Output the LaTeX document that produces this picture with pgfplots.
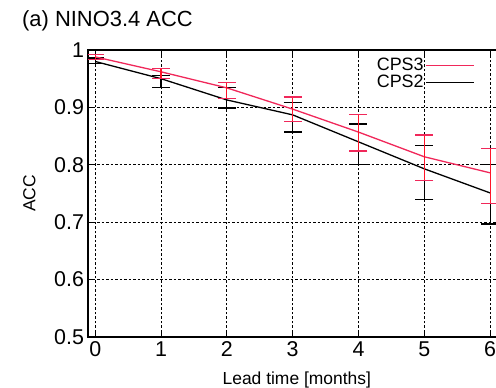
\documentclass[border=0pt]{standalone}
\usepackage{pgfplots}
\pgfplotsset{compat=1.18}
\usepackage{fontspec}
\setmainfont{Liberation Sans}
\definecolor{cpsred}{RGB}{240,40,90}
\definecolor{barred}{RGB}{255,20,40}
\begin{document}
\begin{tikzpicture}
\begin{axis}[
  at={(0,0)}, anchor=south west,
  scale only axis,
  width=435bp, height=287bp,
  xmin=-0.11, xmax=6.5,
  ymin=0.5, ymax=1.0,
  xtick={0,1,2,3,4,5,6},
  ytick={0.5,0.6,0.7,0.8,0.9,1.0},
  yticklabels={0.5,0.6,0.7,0.8,0.9,1},
  /pgf/number format/assume math mode=true,
  tick label style={font=\fontsize{21.5}{21.5}\selectfont},
  xticklabel style={yshift=-1.5bp},
  yticklabel style={xshift=-0.5bp},
  major tick length=5bp,
  tick style={black, line width=0.8bp},
  axis line style={black, line width=1.4bp},
  grid=major,
  major grid style={black, line width=1.1bp, dash pattern=on 2.5bp off 2bp},
  xlabel={Lead time [months]},
  ylabel={ACC},
  label style={font=\fontsize{17.5}{17.5}\selectfont},
  xlabel style={at={(axis description cs:0.48,-0.15)}, anchor=center},
  ylabel style={at={(axis description cs:-0.135,0.5)}, anchor=center},
  legend plot pos=right,
  legend cell align=right,
  reverse legend,
  legend style={draw=none, fill=none, at={(axis description cs:0.890,0.972)}, anchor=north east,
    font=\fontsize{18}{18}\selectfont, inner sep=0pt, row sep=2bp, column sep=2bp,
    nodes={inner sep=0pt, text height=12bp, text depth=3bp}},
  legend image code/.code={\draw[#1] (0bp,0bp) -- (48bp,0bp);},
]
\addplot[black, line width=1.3bp,
  error bars/.cd, y dir=both, y explicit,
  error bar style={black, line width=1.2bp},
  error mark options={black, line width=1.2bp, mark size=9bp, rotate=90}]
  coordinates {
  (0,0.980) += (0,0.006) -= (0,0.004)
  (1,0.950) += (0,0.006) -= (0,0.016)
  (2,0.913) += (0,0.022) -= (0,0.014)
  (3,0.887) += (0,0.022) -= (0,0.030)
  (4,0.840) += (0,0.031) -= (0,0.039)
  (5,0.793) += (0,0.040) -= (0,0.053)
  (6,0.751) += (0,0.050) -= (0,0.054)
  };
\addlegendentry{CPS2}
\addplot[cpsred, line width=1.3bp,
  error bars/.cd, y dir=both, y explicit,
  error bar style={barred, line width=1.2bp},
  error mark options={cpsred, line width=1.2bp, mark size=9bp, rotate=90}]
  coordinates {
  (0,0.988) += (0,0.004) -= (0,0.004)
  (1,0.962) += (0,0.006) -= (0,0.011)
  (2,0.934) += (0,0.010) -= (0,0.018)
  (3,0.897) += (0,0.021) -= (0,0.021)
  (4,0.857) += (0,0.030) -= (0,0.033)
  (5,0.814) += (0,0.038) -= (0,0.042)
  (6,0.786) += (0,0.042) -= (0,0.053)
  };
\addlegendentry{CPS3}
\end{axis}
\node[anchor=base west, font=\fontsize{22}{22}\selectfont, inner sep=0pt] at (-66bp,310bp) {(a) NINO3.4 ACC};
\pgfresetboundingbox
\path (-88bp,-51bp) rectangle (408bp,337bp);
\end{tikzpicture}
\end{document}
